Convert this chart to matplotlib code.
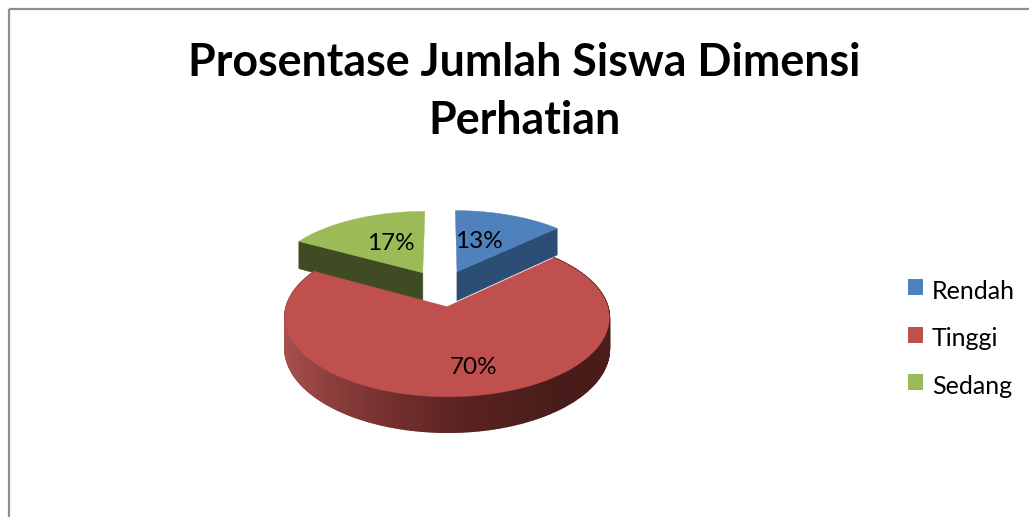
import numpy as np
import matplotlib
matplotlib.use("Agg")
import matplotlib.pyplot as plt
from matplotlib.patches import Patch, Polygon, Rectangle
from matplotlib.collections import PolyCollection

categories = ["Rendah", "Tinggi", "Sedang"]
values = [13, 70, 17]
labels = ["13%", "70%", "17%"]
title_lines = ["Prosentase Jumlah Siswa Dimensi", "Perhatian"]

colors = ["#4F81BD", "#C0504D", "#9BBB59"]
wall_colors = ["#2C4D75", "#4A1C1A", "#3F4B22"]

W, H = 1029, 517
plt.rcParams["font.family"] = ["Lato", "DejaVu Sans"]
fig = plt.figure(figsize=(W / 100, H / 100), dpi=100, facecolor="white")
ax = fig.add_axes([0, 0, 1, 1])
ax.set_xlim(0, W)
ax.set_ylim(H, 0)
ax.axis("off")

# Projection of the exploded pie (pixel layout of the 3-D view)
CX, CY, RX, RY, K, DEPTH, EXPLODE = 442.0, 288.0, 155.5, 73.0, 0.13, 29.7, 0.25


def project(X, Y, drop=0.0):
    d = 1 + K * Y
    return CX + RX * X / d, CY - RY * Y / d + drop / d


fractions = np.array(values) / sum(values)
edges = np.concatenate([[0], np.cumsum(fractions)]) * 2 * np.pi
starts, ends = edges[:-1], edges[1:]
mids = (starts + ends) / 2
ox, oy = EXPLODE * np.sin(mids), EXPLODE * np.cos(mids)


def wedge_outline(i, drop=0.0):
    th = np.linspace(starts[i], ends[i], 240)
    X = np.concatenate([[ox[i]], ox[i] + np.sin(th)])
    Y = np.concatenate([[oy[i]], oy[i] + np.cos(th)])
    return np.column_stack(project(X, Y, drop))


def radial_wall(i, th):
    rr = np.array([0.0, 1.0])
    X = ox[i] + rr * np.sin(th)
    Y = oy[i] + rr * np.cos(th)
    top = np.column_stack(project(X, Y))
    bot = np.column_stack(project(X, Y, DEPTH))
    return np.vstack([top, bot[::-1]])


# Border of the chart area, running off the canvas at right and bottom
ax.add_patch(Rectangle((9, 9), W + 20, H + 20, fill=False, ec="#8E8E8E", lw=1.6, zorder=1))

# Far slices first: radial cut walls then their top faces
for i in [2, 0]:
    cut = ends[i] if i == 0 else starts[i]
    ax.add_patch(Polygon(radial_wall(i, cut), fc=wall_colors[i], ec=wall_colors[i], lw=0.5, zorder=2))
    ax.add_patch(Polygon(wedge_outline(i), fc=colors[i], ec=colors[i], lw=0.3, zorder=3))

# Near slice: outer rim with a left-to-right shading, then the top face
i = 1
th = np.linspace(starts[i], ends[i], 260)
xt, yt = project(ox[i] + np.sin(th), oy[i] + np.cos(th))
xb, yb = project(ox[i] + np.sin(th), oy[i] + np.cos(th), DEPTH)
quads = [[(xt[j], yt[j]), (xt[j + 1], yt[j + 1]), (xb[j + 1], yb[j + 1]), (xb[j], yb[j])]
         for j in range(len(th) - 1)]
stops_x = np.array([284, 330, 400, 470, 560, 609.0])
stops_rgb = np.array([[168, 80, 77], [140, 62, 60], [112, 46, 44], [88, 34, 32], [72, 28, 26], [74, 28, 26]]) / 255
mx = (xt[:-1] + xt[1:]) / 2
shade = np.column_stack([np.interp(mx, stops_x, stops_rgb[:, c]) for c in range(3)])
ax.add_collection(PolyCollection(quads, facecolors=shade, edgecolors=shade, linewidths=1.2, zorder=4))
ax.add_patch(Polygon(wedge_outline(i), fc=colors[i], ec=colors[i], lw=0.3, zorder=5))

# Data labels
label_pos = [(479, 241), (473.5, 367), (391, 243)]
for lab, (lx, ly) in zip(labels, label_pos):
    ax.text(lx, ly, lab, ha="center", va="center", fontsize=17.5, color="black", zorder=6)

# Title
ax.text(524, 92, "\n".join(title_lines), ha="center", va="center", fontsize=32.2,
        fontweight="bold", color="black", linespacing=1.48, zorder=6)

# Legend
handles = [Patch(fc=c, ec="none", label=n) for c, n in zip(colors, categories)]
leg = ax.legend(handles=handles, loc="center left", bbox_to_anchor=(908 / W, 1 - 336 / H),
                frameon=False, fontsize=18, handlelength=0.6, handleheight=0.6,
                handletextpad=0.36, labelspacing=0.98, borderpad=0, borderaxespad=0)
for t in leg.get_texts():
    t.set_y(-3)

fig.savefig("out.png", dpi=100)
